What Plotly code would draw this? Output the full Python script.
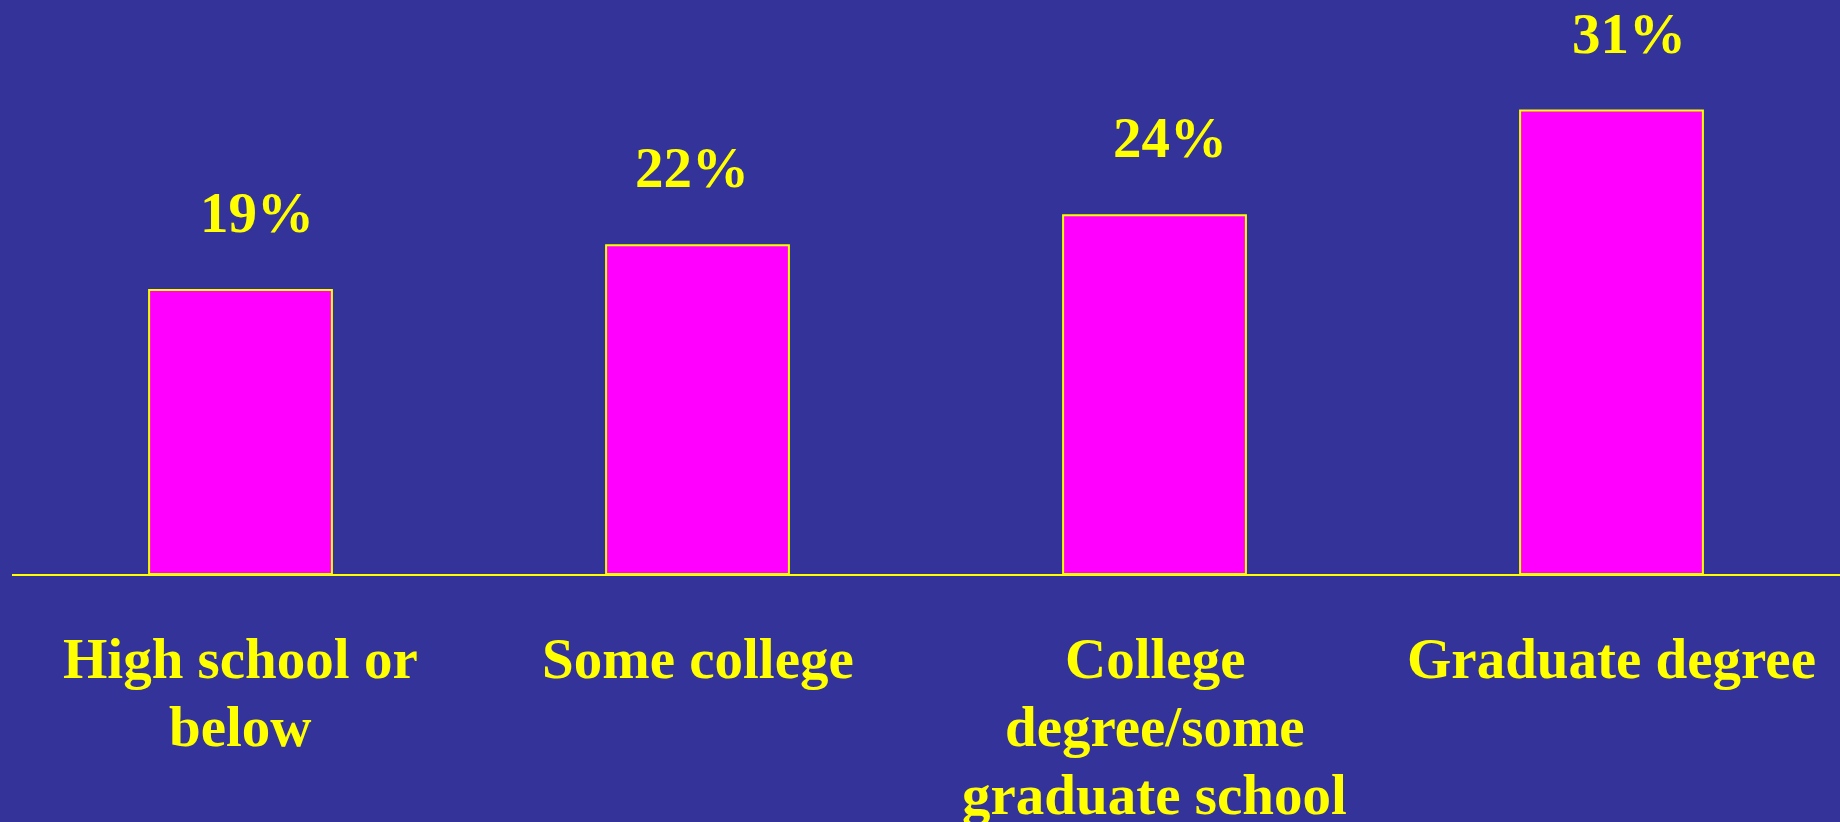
import plotly.graph_objects as go

# Share by education level
categories = [
    "High school or<br>below",
    "Some college",
    "College<br>degree/some<br>graduate school",
    "Graduate degree",
]
values = [19, 22, 24, 31]

BG = "#333399"
YELLOW = "#FFFF00"
MAGENTA = "#FF00FF"
FONT = "Liberation Serif, Times New Roman, serif"
SIZE = 57
LINE_GAP = 68

fig = go.Figure(
    go.Bar(
        x=list(range(len(categories))),
        y=values,
        width=0.4,
        marker=dict(color=MAGENTA, line=dict(color=YELLOW, width=2)),
        hoverinfo="skip",
    )
)

# value labels above the bars
label_dx = [16, -6, 15, 17]
for i, v in enumerate(values):
    fig.add_annotation(
        x=i, y=v, xref="x", yref="y",
        text=f"<b>{v}%</b>", showarrow=False,
        xanchor="center", yanchor="bottom",
        xshift=label_dx[i], yshift=44,
        font=dict(family=FONT, size=SIZE, color=YELLOW),
    )

# category labels below the baseline, one annotation per line
for i, cat in enumerate(categories):
    for j, line in enumerate(cat.split("<br>")):
        fig.add_annotation(
            x=i, y=0, xref="x", yref="y",
            text=f"<b>{line}</b>", showarrow=False,
            xanchor="center", yanchor="top",
            yshift=-(51 + j * LINE_GAP),
            font=dict(family=FONT, size=SIZE, color=YELLOW),
        )

fig.update_layout(
    width=1840, height=822,
    margin=dict(l=12, r=0, t=0, b=248),
    paper_bgcolor=BG, plot_bgcolor=BG,
    showlegend=False,
    xaxis=dict(
        range=[-0.5, 3.5], showticklabels=False, showgrid=False,
        zeroline=False, showline=True, linecolor=YELLOW, linewidth=2,
        ticks="", fixedrange=True,
    ),
    yaxis=dict(
        range=[0, 38.4], visible=False, showgrid=False, zeroline=False,
        fixedrange=True,
    ),
)

fig.write_html("out.html", config={"displayModeBar": False})
